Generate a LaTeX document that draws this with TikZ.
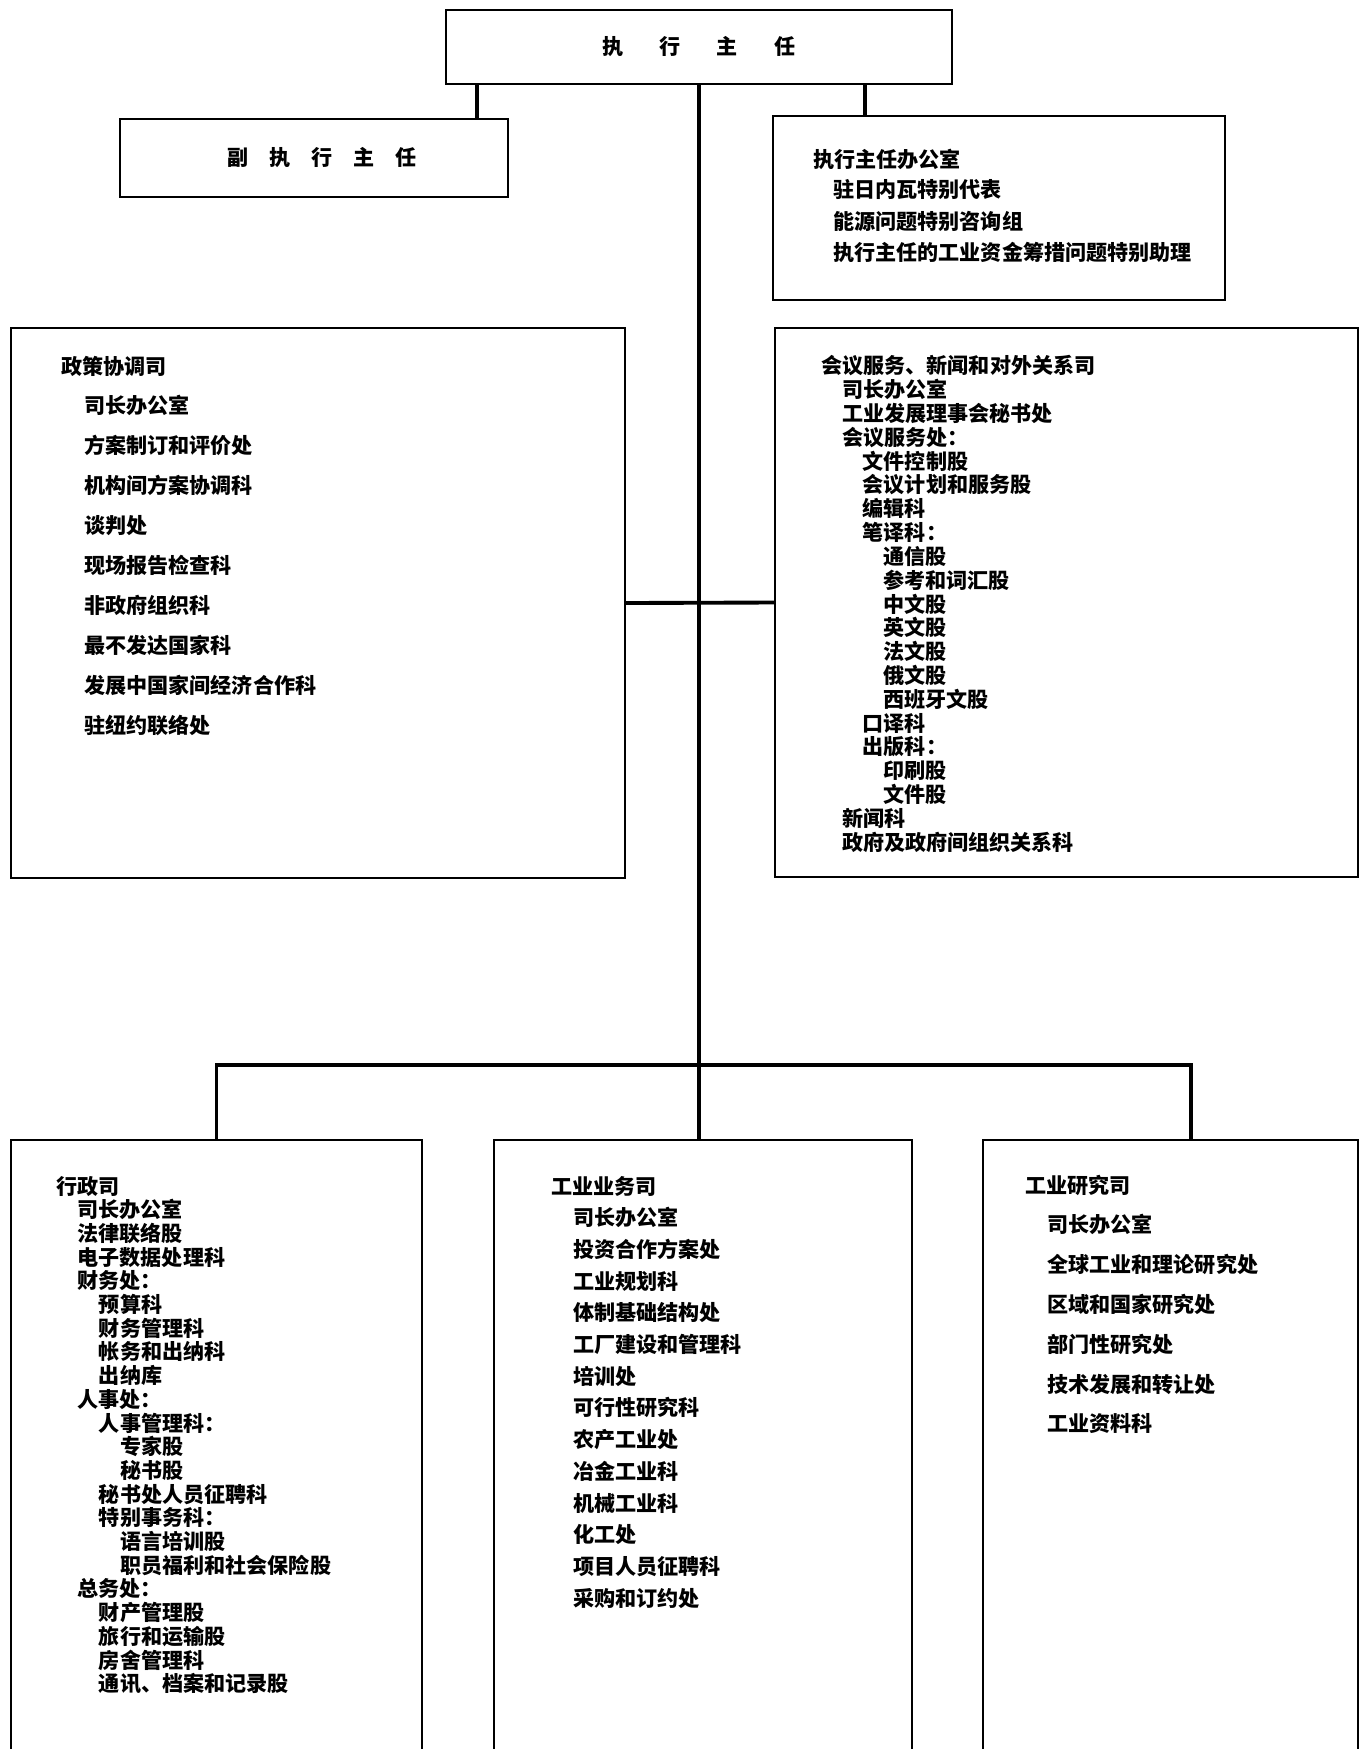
\documentclass[tikz,border=0pt]{standalone}
\usepackage{fontspec}
\newfontfamily\cjk{Noto Sans CJK SC}
\usetikzlibrary{fit,calc}

\begin{document}
\begin{tikzpicture}[
    x=0.02cm, y=-0.02cm,
    unit/.style={draw, line width=1.3pt, inner sep=0pt, outer sep=0pt},
    item/.style={anchor=west, inner sep=0pt, font=\cjk\bfseries\fontsize{12}{14}\selectfont},
    link/.style={line width=2.2pt}
  ]
    \useasboundingbox (0,0) rectangle (1364,1749);
    \clip (0,0) rectangle (1364,1749);

    % boxes
    \node[unit, fit={(446,10) (952,84)}] (head) {};
    \node[unit, fit={(120,119) (508,197)}] (deputy) {};
    \node[unit, fit={(773,116) (1225,300)}] (office) {};
    \node[unit, fit={(11,328) (625,878)}] (policy) {};
    \node[unit, fit={(775,328) (1358,877)}] (conf) {};
    \node[unit, fit={(11,1140) (422,1800)}] (admin) {};
    \node[unit, fit={(494,1140) (912,1800)}] (ops) {};
    \node[unit, fit={(983,1140) (1358,1800)}] (research) {};

    % titles
    \node[item, anchor=center] (head-t) at (699,47) {执\hspace{0.72cm}行\hspace{0.72cm}主\hspace{0.72cm}任};
    \node[item, anchor=center] (deputy-t) at (322,158) {副\hspace{0.42cm}执\hspace{0.42cm}行\hspace{0.42cm}主\hspace{0.42cm}任};

    \foreach \txt/\lv [count=\i from 0] in {执行主任办公室/0, 驻日内瓦特别代表/1, 能源问题特别咨询组/1, 执行主任的工业资金筹措问题特别助理/1}
      \node[item] (office-\i) at (813+20*\lv, 159+31*\i) {\txt};

    \foreach \txt/\lv [count=\i from 0] in {政策协调司/0, 司长办公室/1, 方案制订和评价处/1, 机构间方案协调科/1, 谈判处/1, 现场报告检查科/1, 非政府组织科/1, 最不发达国家科/1, 发展中国家间经济合作科/1, 驻纽约联络处/1}
      \node[item] (policy-\i) at (61+23*\lv, 366+39.9*\i) {\txt};

    \foreach \txt/\lv [count=\i from 0] in {会议服务、新闻和对外关系司/0, 司长办公室/1, 工业发展理事会秘书处/1, 会议服务处：/1, 文件控制股/2, 会议计划和服务股/2, 编辑科/2, 笔译科：/2, 通信股/3, 参考和词汇股/3, 中文股/3, 英文股/3, 法文股/3, 俄文股/3, 西班牙文股/3, 口译科/2, 出版科：/2, 印刷股/3, 文件股/3, 新闻科/1, 政府及政府间组织关系科/1}
      \node[item] (conf-\i) at (821+20.7*\lv, 366+23.8*\i) {\txt};

    \foreach \txt/\lv [count=\i from 0] in {行政司/0, 司长办公室/1, 法律联络股/1, 电子数据处理科/1, 财务处：/1, 预算科/2, 财务管理科/2, 帐务和出纳科/2, 出纳库/2, 人事处：/1, 人事管理科：/2, 专家股/3, 秘书股/3, 秘书处人员征聘科/2, 特别事务科：/2, 语言培训股/3, 职员福利和社会保险股/3, 总务处：/1, 财产管理股/2, 旅行和运输股/2, 房舍管理科/2, 通讯、档案和记录股/2}
      \node[item] (admin-\i) at (56+21.3*\lv, 1186+23.7*\i) {\txt};

    \foreach \txt/\lv [count=\i from 0] in {工业业务司/0, 司长办公室/1, 投资合作方案处/1, 工业规划科/1, 体制基础结构处/1, 工厂建设和管理科/1, 培训处/1, 可行性研究科/1, 农产工业处/1, 冶金工业科/1, 机械工业科/1, 化工处/1, 项目人员征聘科/1, 采购和订约处/1}
      \node[item] (ops-\i) at (551+22*\lv, 1186+31.7*\i) {\txt};

    \foreach \txt/\lv [count=\i from 0] in {工业研究司/0, 司长办公室/1, 全球工业和理论研究处/1, 区域和国家研究处/1, 部门性研究处/1, 技术发展和转让处/1, 工业资料科/1}
      \node[item] (research-\i) at (1025+22*\lv, 1185+39.8*\i) {\txt};

    % connectors
    \coordinate (jd) at (477,0);
    \coordinate (jo) at (865,0);
    \coordinate (jr) at (1191,0);
    \coordinate (bus) at (0,1065);
    \draw[link] (head.south -| jd) -- (deputy.north -| jd);
    \draw[link] (head.south -| jo) -- (office.north -| jo);
    \draw[link] (head.south) -- (head.south |- ops.north);
    \draw[link] (policy.east) -- (conf.west);
    \draw[link] (admin.north) |- (jr |- bus) -- (research.north -| jr);
  \end{tikzpicture}
\end{document}
